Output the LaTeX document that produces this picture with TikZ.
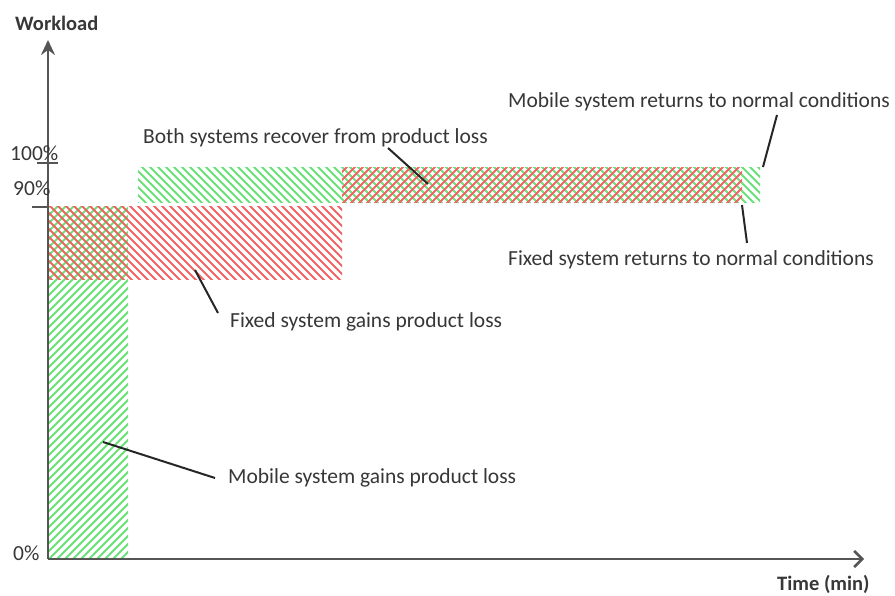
\documentclass[tikz,border=0pt]{standalone}
\usepackage{fontspec}
\setmainfont{Carlito}
\usetikzlibrary{arrows.meta}
\definecolor{hgreen}{RGB}{105,225,120}
\definecolor{hred}{RGB}{240,100,100}
\definecolor{axisgray}{RGB}{85,85,85}
\definecolor{txt}{RGB}{55,55,55}
\tikzset{
  lbl/.style={anchor=west,inner sep=0pt,text=txt,font=\fontsize{21.5}{25}\selectfont},
  blbl/.style={anchor=west,inner sep=0pt,text=txt,font=\fontsize{20.5}{24}\selectfont\bfseries},
  axisline/.style={draw=axisgray,line width=2.6pt},
  leader/.style={draw=black!85,line width=2pt},
  ghatch/.style={draw=hgreen,line width=1.9pt},
  rhatch/.style={draw=hred,line width=1.9pt},
}
\begin{document}
\begin{tikzpicture}[x=1pt,y=-1pt]
\useasboundingbox (0,0) rectangle (895,596);

% --- hatched regions ---
% green vertical strip (////)
\begin{scope}
  \clip (48,207) rectangle (128,558);
  \foreach \a in {-360,-352,...,140} \draw[ghatch] (\a,560) -- ++(360,-360);
\end{scope}
% green top band (\\\\)
\begin{scope}
  \clip (138,168) rectangle (760,203);
  \foreach \a in {100,108,...,770} \draw[ghatch] (\a,165) -- ++(42,42);
\end{scope}
% red lower band (\\\\)
\begin{scope}
  \clip (48,207) rectangle (342,280);
  \foreach \a in {-40,-32,...,350} \draw[rhatch] (\a,204) -- ++(80,80);
\end{scope}
% red top band (////)
\begin{scope}
  \clip (342,168) rectangle (742,203);
  \foreach \a in {300,308,...,750} \draw[rhatch] (\a,206) -- ++(42,-42);
\end{scope}

% --- axes ---
\coordinate (O) at (48,559);
\coordinate (ytop) at (48,40);
\coordinate (xend) at (864,559);
\draw[axisline,-{Stealth[length=15pt,width=14pt,inset=5pt]}] (O) -- (ytop);
\draw[axisline,-{Straight Barb[length=8pt,width=16pt]}] (O) -- (xend);
\coordinate (t100a) at (37,163);
\coordinate (t100b) at (58,163);
\coordinate (t90a) at (32,207);
\coordinate (t90b) at (48,207);
\draw[axisline,line width=2pt] (t100a) -- (t100b);
\draw[axisline,line width=2pt] (t90a) -- (t90b);

% --- axis labels ---
\node[blbl] (workload) at (15,23) {Workload};
\node[blbl] (time) at (777,584) {Time (min)};
\node[lbl] (p100) at (10,153) {100\%};
\node[lbl] (p90) at (13,188) {90\%};
\node[lbl] (p0) at (13,553) {0\%};

% --- annotations ---
\node[lbl] (both) at (143,138) {Both systems recover from product loss};
\node[lbl] (mret) at (508,102) {Mobile system returns to normal conditions};
\node[lbl] (fret) at (508,260) {Fixed system returns to normal conditions};
\node[lbl] (fgain) at (230,322) {Fixed system gains product loss};
\node[lbl] (mgain) at (228,478) {Mobile system gains product loss};

\coordinate (bothA) at (388,148);
\coordinate (bothB) at (428,184);
\coordinate (mretA) at (777,115);
\coordinate (mretB) at (763,167);
\coordinate (fretA) at (742,205);
\coordinate (fretB) at (747,243);
\coordinate (fgainA) at (195,270);
\coordinate (fgainB) at (218,313);
\coordinate (mgainA) at (103,442);
\coordinate (mgainB) at (215,478);
\draw[leader] (bothA) -- (bothB);
\draw[leader] (mretA) -- (mretB);
\draw[leader] (fretA) -- (fretB);
\draw[leader] (fgainA) -- (fgainB);
\draw[leader] (mgainA) -- (mgainB);
\end{tikzpicture}
\end{document}
